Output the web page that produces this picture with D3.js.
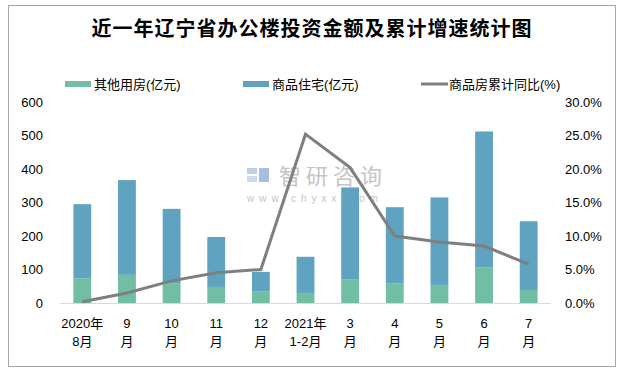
<!DOCTYPE html>
<html>
<head>
<meta charset="utf-8">
<script src="https://d3js.org/d3.v7.min.js"></script>
<style>
  body { margin: 0; background: #fff; }
  text { font-family: "Liberation Sans", "Noto Sans CJK SC", sans-serif; }
</style>
</head>
<body>
<div id="chart"></div>
<script>
// data
var months = [["2020年", "8月"], ["9", "月"], ["10", "月"], ["11", "月"], ["12", "月"],
              ["2021年", "1-2月"], ["3", "月"], ["4", "月"], ["5", "月"], ["6", "月"], ["7", "月"]]
var other = [74, 84, 59, 48, 34, 30, 71, 59, 54, 107, 39]
var residential = [221, 283, 222, 149, 59, 108, 274, 227, 261, 405, 205]
var growth = [0.2, 1.5, 3.3, 4.5, 5.0, 25.2, 20.2, 10.0, 9.1, 8.5, 5.8]
var leftTicks = [0, 100, 200, 300, 400, 500, 600]
var rightTicks = [0, 5, 10, 15, 20, 25, 30]

var W = 634, H = 371
var margin = { top: 102, right: 83, bottom: 68, left: 60 }

var svg = d3.select("#chart").append("svg")
    .attr("width", W).attr("height", H)

// outer frame
svg.append("rect")
    .attr("x", 8.5).attr("y", 5.5).attr("width", 607).attr("height", 361)
    .attr("fill", "#fff").attr("stroke", "#a6a6a6")

svg.append("text")
    .attr("x", 312).attr("y", 36)
    .attr("text-anchor", "middle")
    .style("font-family", "'Noto Sans CJK SC', sans-serif")
    .style("font-weight", "bold")
    .style("font-size", "20px")
    .attr("letter-spacing", "1px")
    .text("近一年辽宁省办公楼投资金额及累计增速统计图")

var x = d3.scaleBand()
    .domain(d3.range(months.length))
    .range([margin.left, W - margin.right])
    .paddingInner(0.6).paddingOuter(0.3)

var y = d3.scaleLinear().domain([0, 600]).range([H - margin.bottom, margin.top])
var y2 = d3.scaleLinear().domain([0, 30]).range([H - margin.bottom, margin.top])

// watermark (behind the marks)
var wm = svg.append("g")
wm.append("rect").attr("x", 247).attr("y", 168).attr("width", 10).attr("height", 6).attr("fill", "#bfcde6")
wm.append("rect").attr("x", 247).attr("y", 176).attr("width", 10).attr("height", 6).attr("fill", "#cfd8ea")
wm.append("rect").attr("x", 259).attr("y", 168).attr("width", 10).attr("height", 14).attr("fill", "#a9bde3")
wm.append("text").attr("x", 279).attr("y", 184)
    .style("font-size", "22px").style("font-family", "'Noto Sans CJK SC', sans-serif")
    .attr("fill", "#c4c4c4").attr("letter-spacing", "5px")
    .text("智研咨询")
wm.append("text").attr("x", 247).attr("y", 202)
    .style("font-size", "10px").attr("fill", "#c4c4c4").attr("letter-spacing", "5px")
    .text("www.chyxx.com")

// left axis labels
svg.append("g").selectAll("text").data(leftTicks).join("text")
    .attr("x", 43).attr("y", d => y(d) + 4.5)
    .attr("text-anchor", "end")
    .style("font-size", "13px")
    .text(d => d)

// right axis labels
svg.append("g").selectAll("text").data(rightTicks).join("text")
    .attr("x", 565).attr("y", d => y2(d) + 4.5)
    .style("font-size", "13px")
    .text(d => d.toFixed(1) + "%")

// baseline
svg.append("line")
    .attr("x1", margin.left).attr("x2", W - margin.right)
    .attr("y1", y(0) + 0.5).attr("y2", y(0) + 0.5)
    .attr("stroke", "#d9d9d9")

// stacked bars
var bars = svg.append("g")
bars.selectAll(".other").data(other).join("rect")
    .attr("x", (d, i) => x(i)).attr("width", x.bandwidth())
    .attr("y", d => y(d)).attr("height", d => y(0) - y(d))
    .attr("fill", "#72bea4")
bars.selectAll(".res").data(residential).join("rect")
    .attr("x", (d, i) => x(i)).attr("width", x.bandwidth())
    .attr("y", (d, i) => y(d + other[i])).attr("height", (d, i) => y(other[i]) - y(d + other[i]))
    .attr("fill", "#5fa3c1")

// growth line
var line = d3.line()
    .x((d, i) => x(i) + x.bandwidth() / 2)
    .y(d => y2(d))
svg.append("path").datum(growth)
    .attr("d", line)
    .attr("fill", "none")
    .attr("stroke", "#7f7f7f")
    .attr("stroke-width", 3)

// x labels
var xl = svg.append("g").selectAll("g").data(months).join("g")
    .attr("transform", (d, i) => "translate(" + (x(i) + x.bandwidth() / 2) + ",0)")
xl.append("text").attr("y", 328).attr("text-anchor", "middle")
    .style("font-size", "13px").text(d => d[0])
xl.append("text").attr("y", 346).attr("text-anchor", "middle")
    .style("font-size", "13px").text(d => d[1])

// legend
var legend = [
  { label: "其他用房(亿元)", color: "#72bea4", x: 65, type: "rect" },
  { label: "商品住宅(亿元)", color: "#5fa3c1", x: 243, type: "rect" },
  { label: "商品房累计同比(%)", color: "#7f7f7f", x: 421, type: "line" }
]
var lg = svg.append("g").selectAll("g").data(legend).join("g")
    .attr("transform", d => "translate(" + d.x + ",84)")
lg.append("rect")
    .attr("x", 0).attr("width", d => d.type == "rect" ? 26 : 27)
    .attr("y", d => d.type == "rect" ? -3 : -1.5)
    .attr("height", d => d.type == "rect" ? 6 : 3)
    .attr("fill", d => d.color)
lg.append("text")
    .attr("x", d => d.type == "rect" ? 29 : 28).attr("y", 5)
    .style("font-size", "13px")
    .text(d => d.label)
</script>
</body>
</html>
